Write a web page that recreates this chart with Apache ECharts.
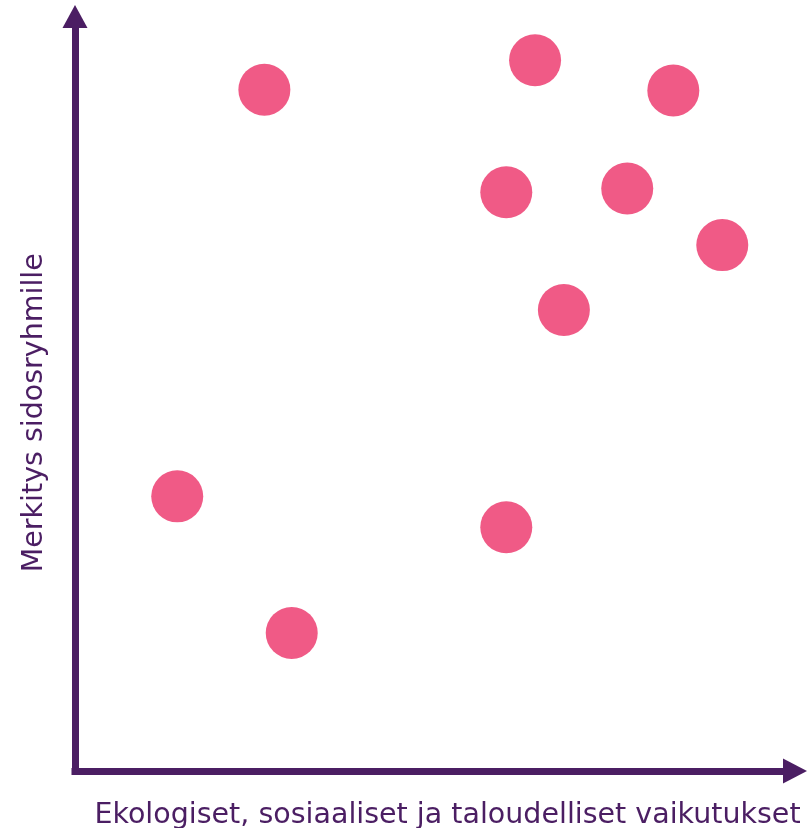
<!DOCTYPE html>
<html>
<head>
<meta charset="utf-8">
<script src="https://cdn.jsdelivr.net/npm/echarts@6/dist/echarts.min.js"></script>
<style>html,body{margin:0;padding:0;background:#fff}#c{width:810px;height:828px}</style>
</head>
<body>
<div id="c"></div>
<script>
const xName = 'Ekologiset, sosiaaliset ja taloudelliset vaikutukset';
const yName = 'Merkitys sidosryhmille';
const xValues = [26.3, 63.9, 83.1, 59.9, 76.7, 89.9, 67.9, 14.2, 59.9, 30.1];
const yValues = [90.3, 94.2, 90.2, 76.7, 77.2, 69.7, 61.1, 36.4, 32.3, 18.3];

const points = xValues.map((x, i) => [x, yValues[i]]);
const axisColor = '#4b1e63';
const font = 'DejaVu Sans';

const chart = echarts.init(document.getElementById('c'), null, {renderer: 'canvas'});
chart.setOption({
  animation: false,
  backgroundColor: '#ffffff',
  grid: {left: 75, right: 15, top: 16.5, bottom: 57, containLabel: false, outerBoundsMode: 'none'},
  xAxis: {
    type: 'value', min: 0, max: 100,
    name: xName, nameLocation: 'middle', nameGap: 30,
    nameTextStyle: {color: axisColor, fontSize: 28.5, fontFamily: font, padding: [0, 0, 0, 25]},
    axisLine: {onZero: false, symbol: ['none', 'triangle'], symbolSize: [25, 24],
      lineStyle: {color: axisColor, width: 7, cap: 'square'}},
    axisTick: {show: false}, axisLabel: {show: false}, splitLine: {show: false}
  },
  yAxis: {
    type: 'value', min: 0, max: 100,
    name: yName, nameLocation: 'middle', nameGap: 26,
    nameTextStyle: {color: axisColor, fontSize: 28.5, fontFamily: font, padding: [0, 38, 0, 0]},
    axisLine: {onZero: false, symbol: ['none', 'triangle'], symbolSize: [25, 23],
      lineStyle: {color: axisColor, width: 7, cap: 'square'}},
    axisTick: {show: false}, axisLabel: {show: false}, splitLine: {show: false}
  },
  series: [{
    type: 'scatter',
    data: points,
    symbol: 'circle',
    symbolSize: 52,
    itemStyle: {color: '#f05a86', opacity: 1}
  }]
});
</script>
</body>
</html>
